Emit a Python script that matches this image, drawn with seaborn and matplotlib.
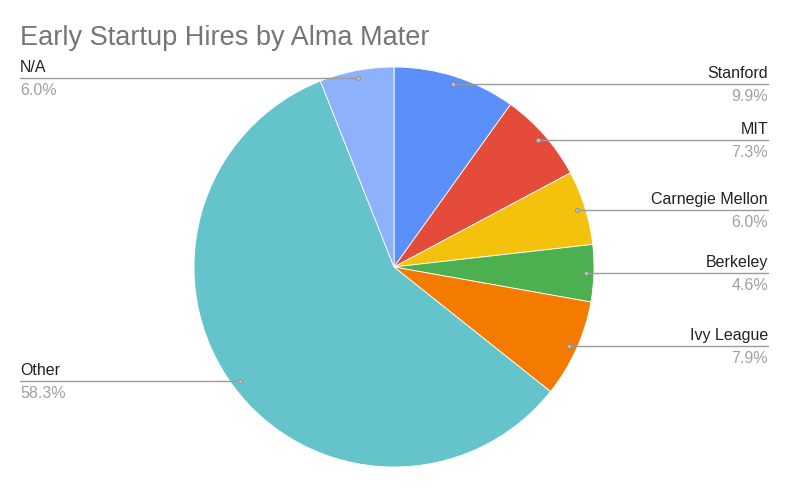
import numpy as np
import matplotlib
matplotlib.use("Agg")
import matplotlib.pyplot as plt
import seaborn as sns

# data
schools = ["Stanford", "MIT", "Carnegie Mellon", "Berkeley", "Ivy League", "Other", "N/A"]
shares = [9.9, 7.3, 6.0, 4.6, 7.9, 58.3, 6.0]
pct_labels = ["9.9%", "7.3%", "6.0%", "4.6%", "7.9%", "58.3%", "6.0%"]
colors = ["#5B8FF9", "#E54B3A", "#F4C20D", "#4CAF50", "#F47B00", "#65C4CB", "#8DB2FB"]

sns.set_theme(style="white")
plt.rcParams['font.family'] = ['Liberation Sans', 'DejaVu Sans']

W, H = 790, 491
fig = plt.figure(figsize=(W / 100, H / 100), dpi=100)
ax = fig.add_axes([0, 0, 1, 1])

cx, cy, R = 394, H - 267, 200
wedges, _ = ax.pie(shares, colors=colors, startangle=90, counterclock=False,
                   center=(cx, cy), radius=R, frame=True,
                   wedgeprops=dict(edgecolor="white", linewidth=0.6))
ax.set_xlim(0, W)
ax.set_ylim(0, H)
ax.set_aspect("equal")
ax.axis("off")

line_col = "#9A9A9A"
for w, name, pct in zip(wedges, schools, pct_labels):
    mid = np.deg2rad((w.theta1 + w.theta2) / 2)
    dx, dy = cx + 0.96 * R * np.cos(mid), cy + 0.96 * R * np.sin(mid)
    if np.cos(mid) >= 0:
        x_end, ha = 768, "right"
    else:
        x_end, ha = 20, "left"
    ax.plot([dx, x_end], [dy, dy], color=line_col, lw=1.0, zorder=3)
    ax.plot(dx, dy, "o", ms=3, mfc="#BDBDBD", mec="#8E8E8E", mew=0.6, zorder=4)
    ax.text(x_end, dy + 3, name, ha=ha, va="bottom", fontsize=11.5, color="#222222")
    ax.text(x_end, dy - 5, pct, ha=ha, va="top", fontsize=11.5, color="#A0A0A0")

fig.text(20 / W, 1 - 38 / H, "Early Startup Hires by Alma Mater", ha="left", va="center",
         fontsize=19.5, color="#757575")

fig.savefig("out.png", dpi=100, facecolor="white")
